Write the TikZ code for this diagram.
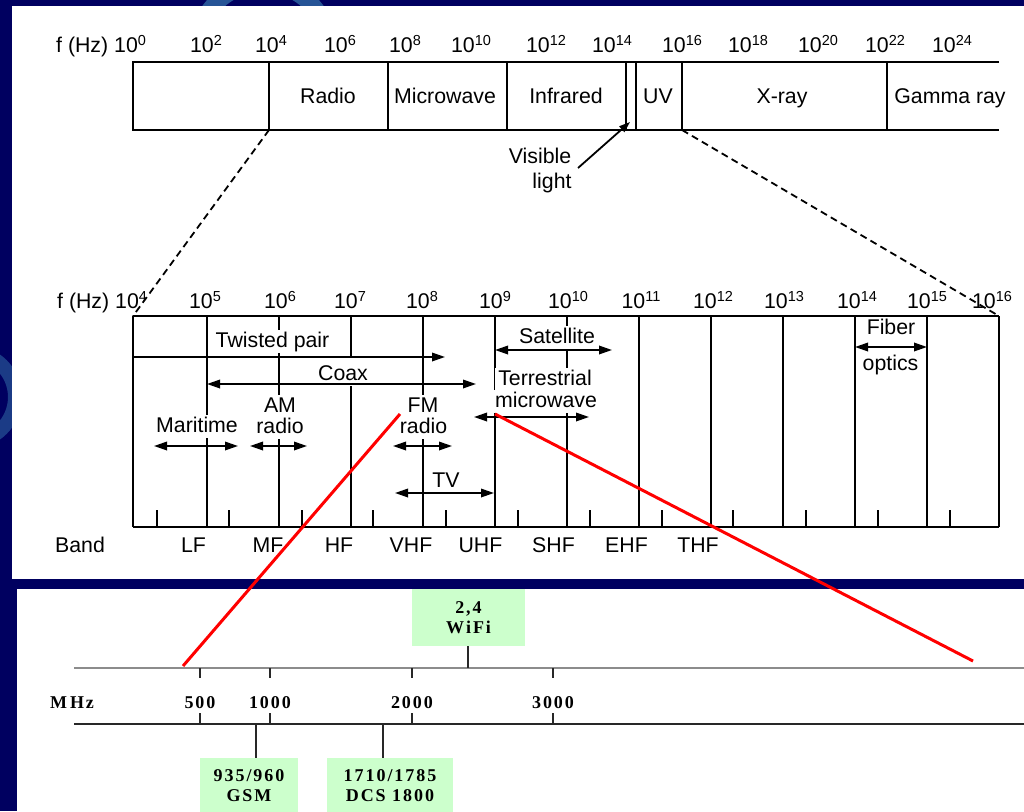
\documentclass[tikz,border=0pt]{standalone}
\usepackage{fontspec}
\setmainfont{Liberation Sans}
\newfontfamily\tnr[LetterSpace=11]{Liberation Serif}
\usetikzlibrary{arrows.meta}
\definecolor{navybg}{RGB}{0,0,96}
\definecolor{swoosh}{RGB}{38,84,150}
\definecolor{boxgreen}{RGB}{204,255,204}
\definecolor{axisgray}{RGB}{140,140,140}
\definecolor{axisdark}{RGB}{40,40,40}
\newcommand\sx[1]{\raisebox{7pt}{\fontsize{14.5}{14.5}\selectfont #1}}
\tikzset{
  lab/.style={font=\fontsize{21.3}{22}\selectfont, inner sep=0pt, anchor=base},
  mask/.style={lab, fill=white, inner xsep=3pt, inner ysep=1.5pt, text height=15.5pt, text depth=4.5pt},
  ln/.style={line width=1.8pt},
  dim/.style={line width=1.8pt, {Triangle[length=13pt,width=8.5pt]}-{Triangle[length=13pt,width=8.5pt]}},
  onehead/.style={line width=1.8pt, -{Triangle[length=13pt,width=8.5pt]}},
  zoomline/.style={line width=1.8pt, dash pattern=on 7pt off 4.5pt},
  redline/.style={red, line width=3pt},
  tb/.style={font=\tnr\bfseries\fontsize{18}{20}\selectfont, inner sep=0pt, anchor=base},
  gbox/.style={fill=boxgreen, font=\tnr\bfseries\fontsize{18}{20}\selectfont, align=center, inner sep=0pt},
  stem/.style={axisdark, line width=1.2pt}
}
\begin{document}
\begin{tikzpicture}[x=1pt,y=-1pt]
\useasboundingbox (0,0) rectangle (1024,811);
% background
\fill[navybg] (0,0) rectangle (1024,811);
\draw[swoosh, line width=17pt] (263,50) circle[radius=66.5pt];
\draw[swoosh!70!navybg, line width=14pt] (-30,397) circle[radius=45pt];
\fill[white] (12,6) rectangle (1024,579);
\fill[white] (17,589) rectangle (1024,811);

% ---------- top spectrum bar ----------
\draw[ln] (999,62) -- (133,62) -- (133,130) -- (999,130);
\foreach \x in {269,388,507,626,636,682,887} \draw[ln] (\x,62) -- (\x,130);
\node[lab, anchor=base west] (tf) at (56,52) {f (Hz) 10\sx{0}};
\foreach \x/\e/\n in {206/2/a,271/4/b,340/6/c,405/8/d,471/10/e,546/12/f,612/14/g,682/16/h,748/18/i,818/20/j,885/22/k,952/24/l}
  \node[lab] (te\n) at (\x,52) {10\sx{\e}};
\node[lab] (radio) at (328,103) {Radio};
\node[lab] (micro) at (445,103) {Microwave};
\node[lab] (infra) at (566,103) {Infrared};
\node[lab] (uv) at (658,103) {UV};
\node[lab] (xray) at (782,103) {X-ray};
\node[lab] (gamma) at (950,103) {Gamma ray};
\node[lab] (vis1) at (540,163) {Visible};
\node[lab] (vis2) at (552,188) {light};
\coordinate (vistail) at (578,168);
\coordinate (vishead) at (630,122);
\draw[line width=1.8pt, -{Triangle[length=11pt,width=7.5pt]}] (vistail) -- (vishead);

% zoom lines
\coordinate (za) at (269,130); \coordinate (zb) at (133,316);
\coordinate (zc) at (682,130); \coordinate (zd) at (999,316);
\draw[zoomline] (za) -- (zb);
\draw[zoomline] (zc) -- (zd);

% ---------- middle chart ----------
\draw[ln] (133,316) -- (999,316);
\draw[ln] (133,527) -- (999,527);
\foreach \x in {133,207,279,351,423,495,567,639,711,783,855,927,999} \draw[ln] (\x,316) -- (\x,527);
\foreach \x in {157,229,302,373,446,518,590,662,733,806,878,950} \draw[ln] (\x,510) -- (\x,527);
\node[lab, anchor=base west] (mf) at (57,308) {f (Hz) 10\sx{4}};
\foreach \x/\e in {205/5,280/6,350/7,422/8,495/9,568/10,641/11,713/12,784/13,857/14,927/15,992/16}
  \node[lab] (me\e) at (\x,308) {10\sx{\e}};
\foreach \x/\t in {80/Band,193.5/LF,268/MF,339/HF,411/VHF,480.5/UHF,553.5/SHF,626.5/EHF,698/THF}
  \node[lab] (band\t) at (\x,552) {\t};

\node[mask] (twisted) at (272.5,347) {Twisted pair};
\node[mask, text height=22pt] (coax) at (343,380) {Coax};
\node[mask] (maritime) at (197,432) {Maritime};
\node[mask] (am1) at (280,412) {AM};
\node[mask] (am2) at (280,433) {radio};
\node[mask] (fm1) at (423,412) {FM};
\node[mask] (fm2) at (423.5,433) {radio};
\node[lab] (tv) at (446,487) {TV};
\node[mask] (sat) at (557,343) {Satellite};
\node[mask, inner xsep=3pt] (terr1) at (545,385) {Terrestrial};
\node[mask, inner xsep=3pt] (terr2) at (546,407) {microwave};
\node[lab] (fib1) at (891,334) {Fiber};
\node[lab] (fib2) at (890.5,370) {optics};

\draw[onehead] (133,357) -- (445,357);
\draw[dim] (207,384) -- (476,384);
\draw[dim] (154,446) -- (238,446);
\draw[dim] (250,446) -- (307,446);
\draw[dim] (393,446) -- (452,446);
\draw[dim] (395,493) -- (494,493);
\draw[dim] (495,350) -- (612,350);
\draw[dim] (474,417) -- (589,417);
\draw[dim] (855,347) -- (927,347);

% ---------- bottom scale ----------
\coordinate (axL) at (74,668); \coordinate (axR) at (1024,668);
\coordinate (bxL) at (74,724); \coordinate (bxR) at (1024,724);
\draw[axisgray, line width=2.2pt] (axL) -- (axR);
\draw[axisdark, line width=1.4pt] (bxL) -- (bxR);
\foreach \x/\v in {200/500,270/1000,412/2000,553/3000}{
  \draw[stem] (\x,668) -- (\x,678);
  \draw[stem] (\x,713) -- (\x,724);
  \node[tb] (mhz\v) at (\x,708) {\v};
}
\node[tb] (mhz) at (72,708) {M\kern3pt Hz};

\node[gbox, minimum width=113pt, minimum height=57pt] (wifi) at (468.5,617.5) {2,4\\W\kern2pt iFi};
\node[gbox, minimum width=98pt, minimum height=56pt] (gsm) at (249,786) {935/960\\GSM};
\node[gbox, minimum width=126pt, minimum height=56pt] (dcs) at (390,786) {1710/1785\\DCS 1800};
\draw[stem] (468,646) -- (468,668);
\draw[stem] (256,724) -- (256,758);
\draw[stem] (383,724) -- (383,758);

% red zoom lines
\coordinate (ra) at (400,414); \coordinate (rb) at (183,666);
\coordinate (rc) at (495,414); \coordinate (rd) at (973,661);
\draw[redline] (ra) -- (rb);
\draw[redline] (rc) -- (rd);
\end{tikzpicture}
\end{document}
